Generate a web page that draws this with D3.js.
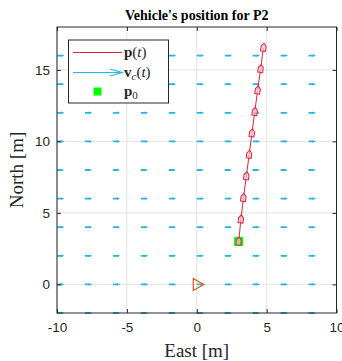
<!DOCTYPE html>
<html lang="en">
  <head>
    <meta charset="utf-8">
    <title>Vehicle's position for P2</title>
    <script src="https://cdn.jsdelivr.net/npm/d3@7"></script>
    <style type="text/css">
      body { margin: 0; background: #fff; }
      .tick text { font-family: "Liberation Sans", Arial, sans-serif; font-size: 13.5px; fill: #262626; }
      .serif { font-family: "Liberation Serif", "Times New Roman", serif; fill: #262626; }
    </style>
  </head>
  <body>
    <script type="text/javascript">
      var w = 342, h = 361;
      var margin = {left: 57, right: 5.5, top: 27, bottom: 48};

      // quiver grid (current velocity, pointing east)
      var quiverX = [-10, -8, -6, -4, -2, 0, 2, 4, 6, 8];
      var quiverY = [-2, 0, 2, 4, 6, 8, 10, 12, 14, 16];
      var quiverU = 0.36, quiverV = 0;

      // vehicle trajectory p(t)
      var pathX = [3, 3.16, 3.34, 3.55, 3.75, 3.95, 4.15, 4.36, 4.57, 4.77];
      var pathY = [3, 4.55, 6.05, 7.57, 9.07, 10.57, 12.07, 13.57, 15.07, 16.55];
      var p0 = [3, 3];
      var origin = [0, 0];

      var xTicks = [-10, -5, 0, 5, 10];
      var yTicks = [0, 5, 10, 15];

      var red = "#d7263d", cyan = "#27b4e6";

      var xScale = d3.scaleLinear().domain([-10, 10]).range([margin.left, w - margin.right]);
      var yScale = d3.scaleLinear().domain([-2, 18]).range([h - margin.bottom, margin.top]);

      var svg = d3.select("body").append("svg").attr("width", w).attr("height", h);

      var x0 = xScale.range()[0], x1 = xScale.range()[1];
      var y0 = yScale.range()[1], y1 = yScale.range()[0];

      // grid
      svg.append("g").selectAll("line").data(xTicks).enter().append("line")
        .attr("x1", function(d) { return xScale(d); }).attr("x2", function(d) { return xScale(d); })
        .attr("y1", y0).attr("y2", y1)
        .attr("stroke", "#e3e3e3").attr("stroke-width", 1);
      svg.append("g").selectAll("line").data(yTicks).enter().append("line")
        .attr("y1", function(d) { return yScale(d); }).attr("y2", function(d) { return yScale(d); })
        .attr("x1", x0).attr("x2", x1)
        .attr("stroke", "#e3e3e3").attr("stroke-width", 1);

      // quiver arrows
      var quiver = [];
      quiverY.forEach(function(yv) {
        quiverX.forEach(function(xv) { quiver.push({x: xv, y: yv}); });
      });
      var qg = svg.append("g").attr("stroke", cyan).attr("stroke-width", 1.8).attr("fill", "none");
      qg.selectAll("path").data(quiver).enter().append("path")
        .attr("d", function(d) {
          var xa = xScale(d.x), ya = yScale(d.y);
          var xb = xScale(d.x + quiverU), yb = yScale(d.y + quiverV);
          return "M" + xa + "," + ya + "L" + xb + "," + yb +
                 "M" + (xb - 1.2) + "," + (yb - 0.5) + "L" + xb + "," + yb + "L" + (xb - 1.2) + "," + (yb + 0.5);
        });

      // axes
      var fmt = function(d) { return String(d); };
      var xAxis = d3.axisBottom(xScale).tickValues(xTicks).tickSize(-4).tickPadding(9).tickFormat(fmt);
      var yAxis = d3.axisLeft(yScale).tickValues(yTicks).tickSize(-4).tickPadding(7).tickFormat(fmt);
      var gx = svg.append("g").attr("transform", "translate(0," + y1 + ")").call(xAxis);
      var gy = svg.append("g").attr("transform", "translate(" + x0 + ",0)").call(yAxis);
      svg.append("g").attr("transform", "translate(0," + y0 + ")")
        .call(d3.axisTop(xScale).tickValues(xTicks).tickSize(-4).tickFormat(""));
      svg.append("g").attr("transform", "translate(" + x1 + ",0)")
        .call(d3.axisRight(yScale).tickValues(yTicks).tickSize(-4).tickFormat(""));
      svg.selectAll(".domain").remove();
      svg.selectAll(".tick line").attr("stroke", "#262626");
      svg.append("rect").attr("x", x0).attr("y", y0).attr("width", x1 - x0).attr("height", y1 - y0)
        .attr("fill", "none").attr("stroke", "#262626").attr("stroke-width", 1);

      // origin marker
      var ox = xScale(origin[0]), oy = yScale(origin[1]);
      svg.append("path")
        .attr("d", "M" + (ox - 3.5) + "," + (oy - 6) + "L" + (ox + 7) + "," + oy + "L" + (ox - 3.5) + "," + (oy + 6) + "Z")
        .attr("fill", "none").attr("stroke", "#d95319").attr("stroke-width", 1.2);

      // p0 marker
      svg.append("rect")
        .attr("x", xScale(p0[0]) - 4.5).attr("y", yScale(p0[1]) - 4.5)
        .attr("width", 9).attr("height", 9).attr("fill", "#00ff00");

      // trajectory
      var pts = pathX.map(function(d, i) { return [d, pathY[i]]; });
      svg.append("path").datum(pts)
        .attr("d", d3.line().x(function(d) { return xScale(d[0]); }).y(function(d) { return yScale(d[1]); }))
        .attr("fill", "none").attr("stroke", red).attr("stroke-width", 1);

      svg.append("g").selectAll("path").data(pts).enter().append("path")
        .attr("d", "M-2.5,3.5L2.5,3.5L2.5,-1.5L0,-4.5L-2.5,-1.5Z")
        .attr("transform", function(d, i) {
          var j = Math.min(i + 1, pts.length - 1), k = j - 1;
          var ang = Math.atan2(pts[j][0] - pts[k][0], pts[j][1] - pts[k][1]) * 180 / Math.PI * 14 / 14.3;
          return "translate(" + xScale(d[0]) + "," + yScale(d[1]) + ") rotate(" + ang + ")";
        })
        .attr("fill", "#f6c6cc").attr("fill-opacity", 0.7).attr("stroke", red).attr("stroke-width", 1);

      // title and labels
      svg.append("text").attr("class", "serif")
        .attr("x", (x0 + x1) / 2).attr("y", 20)
        .attr("text-anchor", "middle").style("font-size", "14px").style("font-weight", "bold")
        .style("fill", "#000")
        .text("Vehicle's position for P2");

      svg.append("text").attr("class", "serif")
        .attr("x", (x0 + x1) / 2).attr("y", 357)
        .attr("text-anchor", "middle").style("font-size", "19px")
        .text("East [m]");

      svg.append("text").attr("class", "serif")
        .attr("transform", "translate(23," + ((y0 + y1) / 2) + ") rotate(-90)")
        .attr("text-anchor", "middle").style("font-size", "19px")
        .text("North [m]");

      // legend
      var lg = svg.append("g");
      lg.append("rect").attr("x", 68.5).attr("y", 40).attr("width", 100).attr("height", 63)
        .attr("fill", "#fff").attr("stroke", "#262626").attr("stroke-width", 1);
      lg.append("line").attr("x1", 73).attr("x2", 122).attr("y1", 52.5).attr("y2", 52.5)
        .attr("stroke", red).attr("stroke-width", 1);
      lg.append("path").attr("d", "M73,72.5L122,72.5M110,69L122,72.5L110,76")
        .attr("fill", "none").attr("stroke", cyan).attr("stroke-width", 1.2);
      lg.append("rect").attr("x", 93.5).attr("y", 87.5).attr("width", 8).attr("height", 8).attr("fill", "#00ff00");

      var t1 = lg.append("text").attr("class", "serif").attr("x", 124).attr("y", 57).style("font-size", "15px");
      t1.append("tspan").style("font-weight", "bold").text("p");
      t1.append("tspan").text("(");
      t1.append("tspan").style("font-style", "italic").text("t");
      t1.append("tspan").text(")");

      var t2 = lg.append("text").attr("class", "serif").attr("x", 124).attr("y", 77).style("font-size", "15px");
      t2.append("tspan").style("font-weight", "bold").text("v");
      t2.append("tspan").style("font-style", "italic").style("font-size", "11px").attr("dy", 3).text("c");
      t2.append("tspan").attr("dy", -3).text("(");
      t2.append("tspan").style("font-style", "italic").text("t");
      t2.append("tspan").text(")");

      var t3 = lg.append("text").attr("class", "serif").attr("x", 124).attr("y", 96).style("font-size", "15px");
      t3.append("tspan").style("font-weight", "bold").text("p");
      t3.append("tspan").style("font-size", "11px").attr("dy", 3).text("0");
    </script>
  </body>
</html>
